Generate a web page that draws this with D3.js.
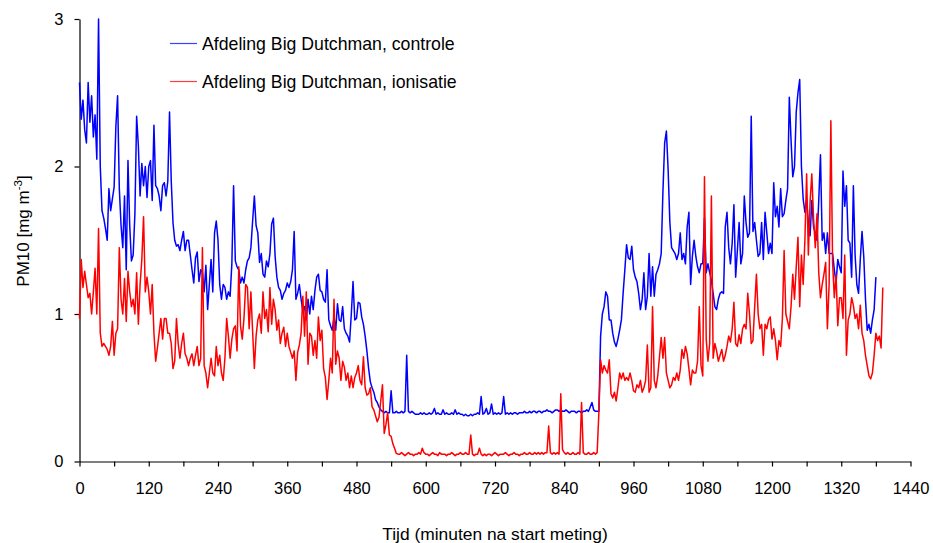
<!DOCTYPE html>
<html>
<head>
<meta charset="utf-8">
<script src="https://cdn.jsdelivr.net/npm/d3@7"></script>
<style>
  body { margin: 0; background: #fff; }
  text { font-family: "Liberation Sans", Arial, sans-serif; fill: #000; }
</style>
</head>
<body>
<svg id="chart" width="933" height="543"></svg>
<script>
// PM10 concentration (mg m-3), one sample every STEP minutes from start of measurement
const STEP = 3;

const controle = [
  2.57,2.32,2.45,2.25,2.16,2.57,2.30,2.48,2.20,2.35,   // 0
  2.05,3.00,2.00,1.70,1.65,1.58,1.50,1.85,1.70,1.78,   // 30
  1.86,2.27,2.48,1.85,1.60,1.45,1.80,1.30,2.04,1.60,   // 60
  1.36,1.40,1.68,2.34,2.14,1.80,2.02,1.87,2.00,1.79,   // 90
  2.00,2.04,1.77,2.28,1.87,1.85,1.80,1.70,1.87,1.89,   // 120
  1.80,1.90,2.37,1.90,1.62,1.50,1.46,1.47,1.43,1.50,   // 150
  1.56,1.43,1.50,1.50,1.40,1.30,1.21,1.38,1.42,1.22,   // 180
  1.30,1.28,1.15,1.33,1.03,1.20,1.37,1.15,1.55,1.63,   // 210
  1.50,1.20,1.10,1.20,1.18,1.10,1.15,1.12,1.34,1.87,   // 240
  1.36,1.32,1.30,1.21,1.25,1.21,1.30,1.36,1.38,1.45,   // 270
  1.63,1.80,1.60,1.55,1.35,1.41,1.27,1.25,1.36,1.32,   // 300
  1.41,1.61,1.65,1.39,1.25,1.18,1.16,1.10,1.14,1.16,   // 330
  1.21,1.18,1.22,1.30,1.56,1.10,1.14,1.20,1.10,1.02,   // 360
  1.05,0.96,1.10,1.00,1.12,1.03,1.16,1.25,1.27,1.16,   // 390
  1.15,1.10,1.08,1.30,0.96,0.92,0.89,0.98,0.89,1.07,   // 420
  0.96,0.95,1.05,0.90,0.87,0.85,0.81,1.00,1.22,0.96,   // 450
  0.97,1.08,1.07,0.98,0.93,0.85,0.75,0.63,0.54,0.50,   // 480
  0.47,0.42,0.40,0.37,0.35,0.34,0.33,0.34,0.33,0.33,   // 510
  0.48,0.33,0.33,0.34,0.33,0.33,0.34,0.33,0.34,0.72,   // 540
  0.34,0.33,0.34,0.33,0.32,0.32,0.32,0.33,0.32,0.33,   // 570
  0.32,0.32,0.33,0.32,0.33,0.36,0.32,0.33,0.32,0.32,   // 600
  0.35,0.32,0.33,0.32,0.32,0.33,0.32,0.35,0.32,0.33,   // 630
  0.32,0.32,0.31,0.32,0.31,0.31,0.32,0.31,0.32,0.32,   // 660
  0.33,0.32,0.44,0.32,0.33,0.36,0.32,0.33,0.39,0.32,   // 690
  0.33,0.32,0.33,0.32,0.33,0.44,0.32,0.33,0.32,0.33,   // 720
  0.32,0.33,0.33,0.32,0.33,0.33,0.33,0.34,0.33,0.33,   // 750
  0.34,0.33,0.34,0.34,0.33,0.34,0.34,0.33,0.34,0.34,   // 780
  0.35,0.34,0.34,0.33,0.34,0.35,0.35,0.34,0.35,0.34,   // 810
  0.34,0.35,0.34,0.33,0.34,0.34,0.34,0.33,0.34,0.34,   // 840
  0.33,0.34,0.34,0.35,0.34,0.37,0.40,0.35,0.34,0.34,   // 870
  0.34,0.85,1.00,1.05,1.15,1.12,0.96,0.96,0.87,0.81,   // 900
  0.78,0.83,0.89,0.96,1.14,1.30,1.47,1.38,1.37,1.46,   // 930
  1.30,1.25,1.22,1.14,1.03,1.10,1.28,1.03,1.12,1.41,   // 960
  1.12,1.32,1.12,1.27,1.30,1.34,1.41,1.83,2.16,2.24,   // 990
  1.98,1.62,1.45,1.43,1.41,1.37,1.41,1.55,1.37,1.41,   // 1020
  1.34,1.59,1.69,1.20,1.39,1.50,1.39,1.32,1.28,1.34,   // 1050
  1.34,1.65,1.28,1.34,1.28,1.23,1.14,1.05,1.03,1.10,   // 1080
  1.14,1.15,1.14,1.59,1.69,1.45,1.34,1.48,1.74,1.25,   // 1110
  1.43,1.62,1.34,1.41,1.80,1.62,1.52,1.55,2.34,1.56,   // 1140
  1.62,1.50,1.39,1.41,1.62,1.37,1.69,1.55,1.41,1.48,   // 1170
  1.41,1.89,1.66,1.73,1.59,1.85,1.66,1.68,1.77,1.85,   // 1200
  2.47,2.18,1.93,2.00,2.37,2.50,2.59,2.00,1.78,1.69,   // 1230
  1.77,1.62,1.53,1.77,1.59,1.55,1.50,1.77,2.08,1.50,   // 1260
  1.55,1.41,1.55,1.41,1.41,1.41,1.30,1.21,1.37,1.32,   // 1290
  1.28,1.97,1.73,1.87,1.50,1.48,1.25,1.87,1.40,1.20,   // 1320
  1.14,1.37,1.56,1.39,1.10,0.89,0.93,0.87,0.96,1.03,   // 1350
  1.25                                                 // 1380
];

const ionisatie = [
  0.97,1.37,1.18,1.29,1.20,1.11,1.14,1.00,1.15,1.31,   // 0
  1.00,1.58,0.87,0.78,0.80,0.78,0.76,0.72,0.78,0.95,   // 30
  0.72,0.87,0.90,1.45,1.10,1.00,1.24,0.95,1.29,1.15,   // 60
  1.05,1.10,1.00,1.28,0.93,1.20,1.37,1.66,1.15,1.25,   // 90
  1.15,1.00,1.20,0.87,0.68,0.77,0.87,0.97,0.83,0.97,   // 120
  0.97,0.87,0.87,0.80,0.63,0.68,0.97,0.80,0.70,0.80,   // 150
  0.87,0.73,0.70,0.65,0.70,0.73,0.65,0.72,0.78,0.65,   // 180
  0.70,1.45,0.65,0.60,0.50,0.60,0.70,0.60,0.58,0.78,   // 210
  0.65,0.72,0.60,0.55,0.70,0.97,0.85,0.70,0.83,0.90,   // 240
  0.92,0.75,1.32,0.92,0.83,0.97,1.20,1.18,0.90,1.15,   // 270
  0.88,0.63,0.85,0.96,1.00,0.87,1.15,0.97,1.03,0.88,   // 300
  1.18,0.93,1.10,1.03,0.89,0.96,0.80,0.87,0.91,0.78,   // 330
  0.87,0.78,0.74,0.70,0.75,0.55,0.74,0.79,0.87,1.12,   // 360
  0.85,1.15,0.66,0.87,0.85,0.72,0.82,0.70,0.98,0.82,   // 390
  0.89,0.63,0.57,0.42,0.55,0.70,0.60,1.10,0.66,0.75,   // 420
  0.70,0.55,0.68,0.64,0.55,0.60,0.50,0.58,0.50,0.57,   // 450
  0.60,0.65,0.55,0.52,0.71,0.50,0.45,0.46,0.50,0.37,   // 480
  0.35,0.31,0.27,0.30,0.41,0.52,0.19,0.25,0.33,0.18,   // 510
  0.17,0.12,0.09,0.055,0.05,0.05,0.06,0.05,0.04,0.05,  // 540
  0.06,0.05,0.05,0.04,0.05,0.05,0.06,0.05,0.09,0.06,   // 570
  0.05,0.05,0.04,0.05,0.06,0.05,0.05,0.04,0.06,0.05,   // 600
  0.05,0.05,0.04,0.05,0.05,0.06,0.05,0.04,0.05,0.05,   // 630
  0.06,0.05,0.05,0.06,0.05,0.05,0.18,0.05,0.04,0.05,   // 660
  0.05,0.09,0.05,0.04,0.05,0.04,0.05,0.05,0.04,0.05,   // 690
  0.06,0.05,0.04,0.05,0.05,0.05,0.06,0.05,0.04,0.05,   // 720
  0.05,0.06,0.05,0.05,0.04,0.05,0.05,0.06,0.05,0.05,   // 750
  0.06,0.05,0.05,0.06,0.05,0.06,0.05,0.06,0.05,0.06,   // 780
  0.06,0.24,0.06,0.05,0.06,0.05,0.06,0.05,0.46,0.08,   // 810
  0.06,0.05,0.06,0.05,0.05,0.06,0.05,0.05,0.06,0.05,   // 840
  0.40,0.06,0.05,0.05,0.06,0.05,0.05,0.06,0.05,0.06,   // 870
  0.33,0.69,0.60,0.65,0.62,0.60,0.69,0.46,0.43,0.47,   // 900
  0.41,0.50,0.60,0.56,0.60,0.55,0.57,0.55,0.60,0.55,   // 930
  0.48,0.47,0.52,0.50,0.55,0.47,0.50,0.55,0.79,0.47,   // 960
  0.50,1.05,0.55,0.50,0.58,0.71,0.84,0.70,0.84,0.60,   // 990
  0.55,0.50,0.52,0.57,0.55,0.60,0.55,0.62,0.76,0.70,   // 1020
  0.78,0.73,0.63,0.52,0.62,0.60,0.60,0.68,1.05,0.65,   // 1050
  0.58,1.93,0.83,0.68,0.80,1.80,0.70,0.80,0.75,0.68,   // 1080
  0.72,0.76,0.68,0.72,0.78,0.85,0.81,0.90,1.08,0.80,   // 1110
  0.78,0.86,0.80,0.90,0.93,0.90,1.14,1.00,0.80,0.82,   // 1140
  1.05,1.27,1.00,0.90,0.93,0.72,0.93,0.90,0.96,0.98,   // 1170
  0.83,0.90,0.82,0.69,0.82,0.78,0.97,1.43,1.00,0.95,   // 1200
  0.90,1.05,1.27,1.10,1.32,1.52,1.05,1.40,1.20,1.50,   // 1230
  1.95,1.40,1.76,1.95,1.65,1.45,1.68,1.28,1.11,1.20,   // 1260
  1.27,1.35,0.90,1.20,2.31,1.35,1.11,1.27,0.92,1.11,   // 1290
  1.11,0.97,1.40,0.72,0.96,1.00,1.11,1.06,0.97,1.00,   // 1320
  0.90,1.06,0.87,0.82,0.72,0.65,0.58,0.56,0.60,0.72,   // 1350
  0.87,0.82,0.85,0.77,1.18                             // 1380
];

const seriesNames  = ["Afdeling Big Dutchman, controle", "Afdeling Big Dutchman, ionisatie"];
const seriesColors = ["#0000ff", "#ff0000"];
const xTickValues  = d3.range(0, 1441, 60);
const xLabelEvery  = 120;
const yTickValues  = [0, 1, 2, 3];

const svg = d3.select("#chart");

const x = d3.scaleLinear().domain([0, 1440]).range([79.5, 910.5]);
const y = d3.scaleLinear().domain([0, 3]).range([461.5, 19]);

// axes
const xAxis = d3.axisBottom(x)
  .tickValues(xTickValues)
  .tickSize(5).tickSizeOuter(0).tickPadding(16)
  .tickFormat(d => d % xLabelEvery === 0 ? d : "");
const gx = svg.append("g").attr("transform", `translate(0,${y(0)})`).call(xAxis);

const yAxis = d3.axisLeft(y)
  .tickValues(yTickValues)
  .tickSize(5).tickSizeOuter(0).tickPadding(11)
  .tickFormat(d3.format("d"));
const gy = svg.append("g").attr("transform", `translate(${x(0)},0)`).call(yAxis);

[gx, gy].forEach(g => {
  g.selectAll("path.domain").attr("stroke", "#000").attr("stroke-width", 1.2);
  g.selectAll(".tick line").attr("stroke", "#000").attr("stroke-width", 1.2);
  g.selectAll(".tick text").attr("font-size", 16.5).attr("font-family", "Liberation Sans, Arial, sans-serif").attr("fill", "#000");
});

// series lines
const line = d3.line()
  .x((d, i) => x(i * STEP))
  .y(d => y(d));

[controle, ionisatie].forEach((vals, k) => {
  svg.append("path")
    .datum(vals)
    .attr("fill", "none")
    .attr("stroke", seriesColors[k])
    .attr("stroke-width", 1.5)
    .attr("stroke-linejoin", "round")
    .attr("d", line);
});

// legend
const legend = svg.append("g");
seriesNames.forEach((name, k) => {
  const ly = 43.5 + k * 38;
  legend.append("line")
    .attr("x1", 170).attr("x2", 197).attr("y1", ly).attr("y2", ly)
    .attr("stroke", seriesColors[k]).attr("stroke-width", 1.2).attr("opacity", 0.75);
  legend.append("text")
    .attr("x", 202).attr("y", ly + 6.3)
    .attr("font-size", 17.7)
    .text(name);
});

// axis titles
svg.append("text")
  .attr("x", 495).attr("y", 540)
  .attr("text-anchor", "middle")
  .attr("font-size", 17.4)
  .text("Tijd (minuten na start meting)");

const yTitle = svg.append("text")
  .attr("transform", "translate(29,231) rotate(-90)")
  .attr("text-anchor", "middle")
  .attr("font-size", 17);
yTitle.append("tspan").text("PM10 [mg m");
yTitle.append("tspan").attr("dy", -7).attr("font-size", 11.5).text("-3");
yTitle.append("tspan").attr("dy", 7).text("]");
</script>
</body>
</html>
